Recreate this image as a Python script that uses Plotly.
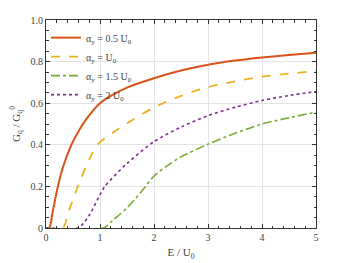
import plotly.graph_objects as go

# Series data
x_a05 = [0, 0.06, 0.125, 0.22, 0.31, 0.47, 0.625, 0.75, 1.0, 1.25, 1.5, 2.0, 2.5, 3.0, 3.5, 4.0, 4.5, 5.0]
y_a05 = [0, 0, 0.08, 0.2, 0.29, 0.4, 0.475, 0.525, 0.6, 0.643, 0.675, 0.72, 0.757, 0.785, 0.805, 0.82, 0.832, 0.842]

x_a10 = [0, 0.31, 0.42, 0.59, 0.75, 0.95, 1.25, 1.5, 2.0, 2.5, 3.0, 3.5, 4.0, 4.5, 5.0]
y_a10 = [0, 0, 0.08, 0.2, 0.3, 0.4, 0.46, 0.503, 0.58, 0.635, 0.677, 0.705, 0.728, 0.742, 0.755]

x_a15 = [0, 1.06, 1.25, 1.5, 1.75, 2.0, 2.25, 2.5, 3.0, 3.5, 4.0, 4.5, 5.0]
y_a15 = [0, 0, 0.04, 0.097, 0.17, 0.25, 0.30, 0.342, 0.403, 0.455, 0.50, 0.53, 0.557]

x_a20 = [0, 0.59, 0.7, 0.81, 1.0, 1.09, 1.5, 2.0, 2.5, 3.0, 3.5, 4.0, 4.5, 5.0]
y_a20 = [0, 0, 0.025, 0.065, 0.16, 0.2, 0.31, 0.415, 0.485, 0.54, 0.58, 0.613, 0.637, 0.656]

names = ["α<sub>y</sub> = 0.5 U<sub>0</sub>", "α<sub>y</sub> = U<sub>0</sub>",
         "α<sub>y</sub> = 1.5 U<sub>0</sub>", "α<sub>y</sub> = 2 U<sub>0</sub>"]

x_ticks = [0, 1, 2, 3, 4, 5]
x_ticktext = ["0", "1", "2", "3", "4", "5"]
y_ticks = [0, 0.2, 0.4, 0.6, 0.8, 1.0]
y_ticktext = ["0", "0.2", "0.4", "0.6", "0.8", "1.0"]

FONT = "Liberation Serif"

fig = go.Figure()
fig.add_trace(go.Scatter(x=x_a05, y=y_a05, mode="lines", name=names[0],
                         line=dict(color="#D95319", width=2, dash="solid", shape="spline", smoothing=0.8)))
fig.add_trace(go.Scatter(x=x_a10, y=y_a10, mode="lines", name=names[1],
                         line=dict(color="#EDB120", width=1.8, dash="dash", shape="spline", smoothing=0.8)))
fig.add_trace(go.Scatter(x=x_a15, y=y_a15, mode="lines", name=names[2],
                         line=dict(color="#77AC30", width=1.6, dash="dashdot", shape="spline", smoothing=0.8)))
fig.add_trace(go.Scatter(x=x_a20, y=y_a20, mode="lines", name=names[3],
                         line=dict(color="#7E2F8E", width=1.6, dash="dot", shape="spline", smoothing=0.8)))

axis_common = dict(
    showline=True, linecolor="#333333", linewidth=1, mirror="allticks",
    ticks="inside", ticklen=4, tickcolor="#333333",
    showgrid=True, gridcolor="#e3e3e3", gridwidth=1,
    zeroline=False, automargin=False,
    tickfont=dict(family=FONT, size=10, color="#444444"),
)

fig.update_xaxes(range=[0, 5], tickvals=x_ticks, ticktext=x_ticktext,
                 minor=dict(ticks="inside", dtick=0.2, ticklen=2.5, tickcolor="#333333", showgrid=False),
                 title=dict(text="E / U<sub>0</sub>", font=dict(family=FONT, size=11, color="#444444"), standoff=6),
                 **axis_common)
fig.update_yaxes(range=[0, 1.0], tickvals=y_ticks, ticktext=y_ticktext,
                 minor=dict(ticks="inside", dtick=0.05, ticklen=2.5, tickcolor="#333333", showgrid=False),
                 title=dict(text="G<sub>q</sub> / G<sub>q</sub><sup>0</sup>", font=dict(family=FONT, size=11, color="#444444"), standoff=8),
                 **axis_common)

# page body adds an 8px offset; margins compensate
fig.update_layout(
    width=350, height=263,
    margin=dict(l=38, r=42, t=12, b=43, autoexpand=False),
    paper_bgcolor="white", plot_bgcolor="white",
    showlegend=True,
    legend=dict(x=0.0, y=0.985, xanchor="left", yanchor="top",
                bgcolor="rgba(255,255,255,0)", borderwidth=0,
                font=dict(family=FONT, size=10, color="#444444"),
                tracegroupgap=0, itemwidth=30),
    font=dict(family=FONT),
)

fig.write_html("out.html")
